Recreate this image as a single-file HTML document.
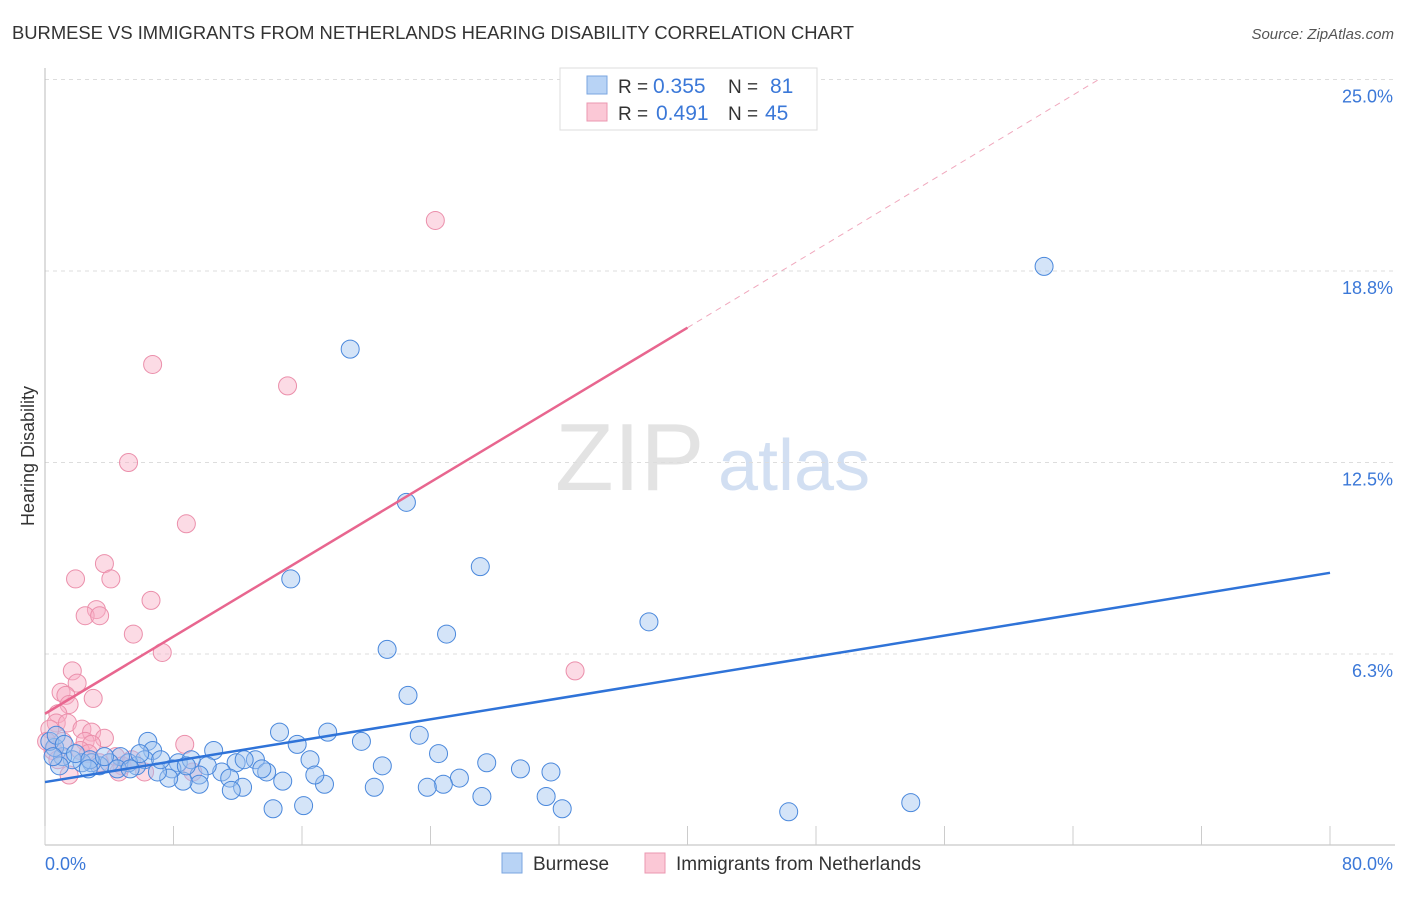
<!DOCTYPE html>
<html><head><meta charset="utf-8"><style>
body{margin:0;background:#fff;font-family:"Liberation Sans",sans-serif}
svg text{font-family:"Liberation Sans",sans-serif}
</style></head><body>
<svg id="chart" width="1406" height="892" viewBox="0 0 1406 892" xmlns="http://www.w3.org/2000/svg">
<text x="12" y="39" font-size="18.4" fill="#333">BURMESE VS IMMIGRANTS FROM NETHERLANDS HEARING DISABILITY CORRELATION CHART</text>
<text x="1394" y="39" font-size="15" fill="#555" text-anchor="end" font-style="italic">Source: ZipAtlas.com</text>
<text x="555" y="490" font-size="96" fill="#ddd" font-family="Liberation Serif" opacity="0.8">ZIP</text>
<text x="718" y="490" font-size="72" fill="#c8d8f0" opacity="0.8">atlas</text>
<text transform="translate(34,456) rotate(-90)" font-size="18" fill="#333" text-anchor="middle">Hearing Disability</text>
<g id="grid"></g><g id="axes"></g><g id="pink"></g><g id="blue"></g><g id="lines"></g>
<g>
<rect x="560" y="68" width="257" height="62" fill="#fff" stroke="#ddd"/>
<rect x="587" y="76" width="20" height="18" fill="#b8d3f5" stroke="#7aa6e0"/>
<rect x="587" y="103" width="20" height="18" fill="#fbc8d6" stroke="#eb97b0"/>
<text x="618" y="93" font-size="19" fill="#333">R =</text>
<text x="653" y="93" font-size="21" fill="#3b78d8">0.355</text>
<text x="728" y="93" font-size="19" fill="#333">N =</text>
<text x="770" y="93" font-size="21" fill="#3b78d8">81</text>
<text x="618" y="120" font-size="19" fill="#333">R =</text>
<text x="656" y="120" font-size="21" fill="#3b78d8">0.491</text>
<text x="728" y="120" font-size="19" fill="#333">N =</text>
<text x="765" y="120" font-size="21" fill="#3b78d8">45</text>
</g>
<g>
<rect x="502" y="853" width="20" height="20" fill="#b8d3f5" stroke="#7aa6e0"/>
<text x="533" y="870" font-size="19" fill="#333">Burmese</text>
<rect x="645" y="853" width="20" height="20" fill="#fbc8d6" stroke="#eb97b0"/>
<text x="676" y="870" font-size="19" fill="#333">Immigrants from Netherlands</text>
</g>
</svg>
<script>
const yTicks=[25,18.75,12.5,6.25];
const yTickLabels=["25.0%","18.8%","12.5%","6.3%"];
const xTicks=[0,8,16,24,32,40,48,56,64,72,80];
const xTickLabels=["0.0%","80.0%"];
const blueX=[62.2,19.0,22.5,15.3,27.1,37.6,25.0,21.3,22.6,14.6,17.6,19.7,23.3,15.7,6.4,10.5,6.7,24.5,13.1,16.5,27.5,21.0,29.6,31.5,25.8,24.8,23.8,20.5,17.4,16.8,14.8,13.8,13.5,11.9,11.0,11.5,12.3,11.6,10.1,9.6,9.6,8.6,8.3,7.9,7.7,7.0,6.2,5.7,5.2,4.7,4.0,3.4,2.9,2.3,1.7,1.1,0.6,0.3,0.7,1.2,1.9,2.8,3.7,4.5,5.3,9.1,14.2,16.1,27.2,31.2,32.2,46.3,53.9,8.8,7.2,12.4,0.9,2.7,0.5,5.9];
const blueY=[18.9,16.2,11.2,8.7,9.1,7.3,6.9,6.4,4.9,3.7,3.7,3.4,3.6,3.3,3.4,3.1,3.1,3.0,2.8,2.8,2.7,2.6,2.5,2.4,2.2,2.0,1.9,1.9,2.0,2.3,2.1,2.4,2.5,2.7,2.4,2.2,1.9,1.8,2.6,2.3,2.0,2.1,2.7,2.5,2.2,2.4,2.8,2.6,2.7,2.9,2.7,2.6,2.7,2.7,2.8,2.9,3.2,3.4,3.6,3.3,3.0,2.8,2.9,2.5,2.5,2.8,1.2,1.3,1.6,1.6,1.2,1.1,1.4,2.6,2.8,2.8,2.6,2.5,2.9,3.0];
const pinkX=[24.3,6.7,15.1,5.2,8.8,3.7,1.9,4.1,6.6,3.2,2.5,3.4,5.5,7.3,33.0,1.7,2.0,1.0,1.3,3.0,1.5,0.8,0.7,1.4,2.3,0.3,2.9,3.7,2.5,2.9,2.2,8.7,0.5,4.4,0.8,4.8,1.5,4.6,6.2,9.2,0.1,1.1,2.7,3.4,5.4];
const pinkY=[20.4,15.7,15.0,12.5,10.5,9.2,8.7,8.7,8.0,7.7,7.5,7.5,6.9,6.3,5.7,5.7,5.3,5.0,4.9,4.8,4.6,4.3,4.0,4.0,3.8,3.8,3.7,3.5,3.4,3.3,3.1,3.3,3.1,2.9,2.8,2.6,2.3,2.4,2.4,2.4,3.4,3.4,3.0,2.7,2.8];
const blueLine=[[0,2.07],[80,8.9]];
const pinkLine=[[0,4.3],[40,16.9]];
const pinkDash=[[40,16.9],[65.6,25.0]];
const X=v=>45+v*(1285/80), Y=v=>845.5-v*30.64;
const NS="http://www.w3.org/2000/svg";
function mk(t,a,p){const e=document.createElementNS(NS,t);for(const k in a)e.setAttribute(k,a[k]);document.getElementById(p).appendChild(e);return e;}
yTicks.forEach((v,i)=>{
 const l=mk('line',{x1:45,x2:1395,y1:Y(v),y2:Y(v),stroke:'#ddd','stroke-dasharray':'4,4'},'grid');
 
 
 const t=mk('text',{x:1393,y:Y(v)+23,'font-size':18,fill:'#3b78d8','text-anchor':'end'},'axes');
 t.textContent=yTickLabels[i];
 
 
});
let a=mk('line',{x1:45,x2:45,y1:68,y2:845,stroke:'#bbb'},'axes');


a=mk('line',{x1:45,x2:1395,y1:845,y2:845,stroke:'#bbb'},'axes');


xTicks.forEach(v=>{
 const t=mk('line',{x1:X(v),x2:X(v),y1:826,y2:845,stroke:'#ccc'},'axes');
 
 
});
[[0,'start',45],[80,'end',1393]].forEach((d,i)=>{
 const t=mk('text',{x:d[2],y:870,'font-size':18,fill:'#3b78d8','text-anchor':d[1]},'axes');
 t.textContent=xTickLabels[i];
 
 
});
pinkX.forEach((v,i)=>{
 const c=mk('circle',{cx:X(v),cy:Y(pinkY[i]),r:9,fill:'rgba(248,176,198,0.45)',stroke:'#eb8fab','stroke-width':1},'pink');
 
 
});
blueX.forEach((v,i)=>{
 const c=mk('circle',{cx:X(v),cy:Y(blueY[i]),r:9,fill:'rgba(160,196,240,0.45)',stroke:'#4a88dc','stroke-width':1},'blue');
 
 
});
let ln=mk('line',{x1:X(blueLine[0][0]),y1:Y(blueLine[0][1]),x2:X(blueLine[1][0]),y2:Y(blueLine[1][1]),stroke:'#2f73d8','stroke-width':2.5},'lines');


ln=mk('line',{x1:X(pinkLine[0][0]),y1:Y(pinkLine[0][1]),x2:X(pinkLine[1][0]),y2:Y(pinkLine[1][1]),stroke:'#e8668f','stroke-width':2.5},'lines');


ln=mk('line',{x1:X(pinkDash[0][0]),y1:Y(pinkDash[0][1]),x2:X(pinkDash[1][0]),y2:Y(pinkDash[1][1]),stroke:'#f0a8bd','stroke-width':1,'stroke-dasharray':'6,5'},'lines');


</script>
</body></html>
